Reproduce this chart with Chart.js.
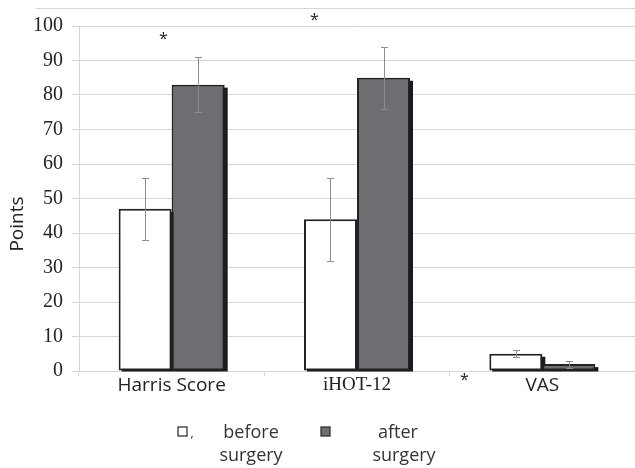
<!DOCTYPE html>
<html>
<head>
<meta charset="utf-8">
<script src="https://cdn.jsdelivr.net/npm/chart.js@4.4.1/dist/chart.umd.min.js"></script>
<style>
  html, body { margin: 0; padding: 0; background: #fff; }
  #wrap { width: 635px; height: 468px; position: relative; }
</style>
</head>
<body>
<div id="wrap"><canvas id="c"></canvas></div>
<script>
const categories = ['Harris Score', 'iHOT-12', 'VAS'];
const beforeValues = [47, 44, 5];
const afterValues = [83, 85, 2];
const beforeErrLow = [38, 32, 4];
const beforeErrHigh = [56, 56, 6];
const afterErrLow = [75, 76, 1];
const afterErrHigh = [91, 94, 3];
const yTicks = [0, 10, 20, 30, 40, 50, 60, 70, 80, 90, 100];
// asterisks: category index, shift in category widths, value
const stars = [
    { cat: 0, shift: -0.045, value: 97 },
    { cat: 1, shift: -0.23, value: 102.5 },
    { cat: 2, shift: -0.42, value: -2 }
];

const gridColor = '#d6d6d6';
const sansFont = "'Open Sans', 'Noto Sans', sans-serif";
const serifFont = "'Liberation Serif', 'DejaVu Serif', serif";

const ctx = document.getElementById('c').getContext('2d');

const extras = {
    id: 'extras',
    beforeDatasetsDraw(chart) {
        // dark drop shadow to the right of each bar
        const c = chart.ctx;
        c.save();
        c.fillStyle = '#1a1a1a';
        for (let d = 0; d < 2; d++) {
            chart.getDatasetMeta(d).data.forEach(bar => {
                const p = bar.getProps(['x', 'y', 'base', 'width'], true);
                const left = p.x - p.width / 2;
                c.fillRect(left + 3, p.y + 3, p.width, p.base - p.y - 2);
            });
        }
        c.restore();
    },
    afterDatasetsDraw(chart) {
        const c = chart.ctx;
        const y = chart.scales.y;
        const lows = [beforeErrLow, afterErrLow];
        const highs = [beforeErrHigh, afterErrHigh];
        c.save();
        c.strokeStyle = '#8c8c8c';
        c.lineWidth = 1;
        for (let d = 0; d < 2; d++) {
            chart.getDatasetMeta(d).data.forEach((bar, i) => {
                const x = Math.round(bar.x) + 0.5;
                const y1 = Math.round(y.getPixelForValue(lows[d][i])) + 0.5;
                const y2 = Math.round(y.getPixelForValue(highs[d][i])) + 0.5;
                c.beginPath();
                c.moveTo(x, y1); c.lineTo(x, y2);
                c.moveTo(x - 3.5, y1); c.lineTo(x + 3.5, y1);
                c.moveTo(x - 3.5, y2); c.lineTo(x + 3.5, y2);
                c.stroke();
            });
        }
        c.restore();
    },
    afterDraw(chart) {
        const c = chart.ctx;
        const xs = chart.scales.x;
        const ys = chart.scales.y;
        const catW = (chart.chartArea.right - chart.chartArea.left) / categories.length;
        c.save();
        // top border line
        c.strokeStyle = gridColor;
        c.lineWidth = 1;
        c.beginPath();
        c.moveTo(36, 8.5);
        c.lineTo(chart.width, 8.5);
        c.stroke();

        // y axis title, sits a little below the middle
        c.save();
        c.translate(18, 224);
        c.rotate(-Math.PI / 2);
        c.fillStyle = '#222';
        c.font = '19px ' + sansFont;
        c.textAlign = 'center';
        c.textBaseline = 'middle';
        c.fillText('Points', 0, 0);
        c.restore();

        // asterisks
        c.fillStyle = '#222';
        c.font = '16px ' + sansFont;
        c.textAlign = 'center';
        c.textBaseline = 'middle';
        stars.forEach(s => {
            const x = xs.getPixelForValue(s.cat) + s.shift * catW;
            c.fillText('*', x, ys.getPixelForValue(s.value) + 3);
        });

        // legend
        c.textBaseline = 'alphabetic';
        c.lineWidth = 1.3;
        c.strokeStyle = '#333';
        c.fillStyle = '#fff';
        c.fillRect(178, 427, 9, 9);
        c.strokeRect(178, 427, 9, 9);
        c.fillStyle = '#6d6e71';
        c.fillRect(321, 427, 9, 9);
        c.strokeRect(321, 427, 9, 9);
        c.fillStyle = '#333';
        c.font = '12px ' + sansFont;
        c.fillText(',', 192, 437);
        c.font = '18px ' + sansFont;
        c.fillText('before', 251, 438);
        c.fillText('surgery', 251, 461);
        c.fillText('after', 398, 438);
        c.fillText('surgery', 404, 461);
        c.restore();
    }
};

new Chart(ctx, {
    type: 'bar',
    data: {
        labels: categories,
        datasets: [
            {
                label: 'before surgery',
                data: beforeValues,
                backgroundColor: '#ffffff',
                borderColor: '#222222',
                borderWidth: 2,
                borderSkipped: false
            },
            {
                label: 'after surgery',
                data: afterValues,
                backgroundColor: '#6d6e71',
                borderColor: '#222222',
                borderWidth: 2,
                borderSkipped: false
            }
        ]
    },
    options: {
        responsive: true,
        maintainAspectRatio: false,
        animation: false,
        categoryPercentage: 0.572,
        barPercentage: 1,
        layout: { padding: { top: 26, right: 0, left: 0, bottom: 0 } },
        plugins: {
            legend: { display: false },
            tooltip: { enabled: false }
        },
        scales: {
            x: {
                grid: {
                    offset: true,
                    drawOnChartArea: false,
                    tickLength: 5,
                    color: gridColor
                },
                border: { color: gridColor },
                ticks: {
                    color: '#222',
                    padding: -2,
                    font: ctx2 => ctx2.index === 1
                        ? { family: serifFont, size: 19 }
                        : { family: sansFont, size: 19 }
                },
                afterFit: s => { s.height = 97; }
            },
            y: {
                min: 0,
                max: 100,
                afterBuildTicks: s => { s.ticks = yTicks.map(v => ({ value: v })); },
                grid: { color: gridColor, tickLength: 7 },
                border: { color: gridColor },
                ticks: {
                    color: '#222',
                    padding: 9,
                    font: { family: serifFont, size: 20 }
                },
                afterFit: s => { s.width = 79; }
            }
        }
    },
    plugins: [extras]
});
</script>
</body>
</html>
